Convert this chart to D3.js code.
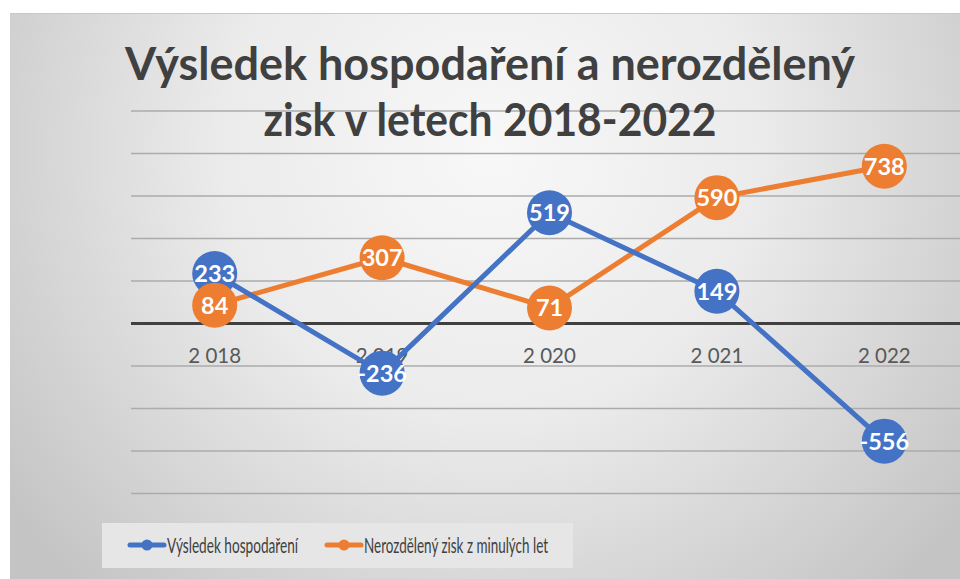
<!DOCTYPE html>
<html>
<head>
<meta charset="utf-8">
<script src="https://cdn.jsdelivr.net/npm/d3@7"></script>
<style>
  body { margin: 0; background: #fff; }
  svg { display: block; }
</style>
</head>
<body>
<div id="display"></div>
<script>
// data
var years = [2018, 2019, 2020, 2021, 2022];
var vysledek = [233, -236, 519, 149, -556];
var nerozdeleny = [84, 307, 71, 590, 738];
var gridTicks = [-800, -600, -400, -200, 0, 200, 400, 600, 800, 1000];
var seriesNames = ['Výsledek hospodaření', 'Nerozdělený zisk z minulých let'];
var titleLines = ['Výsledek hospodaření a nerozdělený', 'zisk v letech 2018-2022'];

var width = 960, height = 579;
var blue = '#4472c4', orange = '#ed7d31';

var cz = d3.formatLocale({decimal: ',', thousands: ' ', grouping: [3], currency: ['', ' Kč'], minus: '-'});
var fmtYear = cz.format(',');
var fmtVal = cz.format('d');

var svg = d3.select('#display').append('svg')
    .attr('width', width)
    .attr('height', height);

var defs = svg.append('defs');
var grad = defs.append('radialGradient')
    .attr('id', 'bg')
    .attr('gradientUnits', 'userSpaceOnUse')
    .attr('cx', 490).attr('cy', 150).attr('r', 600);
grad.append('stop').attr('offset', 0).attr('stop-color', '#f8f8f8');
grad.append('stop').attr('offset', 0.45).attr('stop-color', '#ebebeb');
grad.append('stop').attr('offset', 1).attr('stop-color', '#c4c4c4');

// chart frame
svg.append('rect')
    .attr('x', 10).attr('y', 13)
    .attr('width', width + 20).attr('height', height)
    .attr('fill', 'url(#bg)');
svg.append('line')
    .attr('x1', 10).attr('x2', width).attr('y1', 13.5).attr('y2', 13.5)
    .attr('stroke', '#c8c8c8').attr('stroke-width', 1);

var x = d3.scaleBand().domain(years).range([131, 968]);
var y = d3.scaleLinear().domain([-800, 1000]).range([493, 110.5]);

// gridlines
svg.append('g')
    .attr('transform', 'translate(131,0)')
    .call(d3.axisLeft(y).tickValues(gridTicks).tickSize(-(968 - 131)).tickFormat(''))
    .call(function(g) {
        g.select('.domain').remove();
        g.selectAll('.tick line')
            .attr('stroke', d => d === 0 ? '#404040' : '#ababab')
            .attr('stroke-width', d => d === 0 ? 3 : 1.5);
    });

// title
svg.append('g').selectAll('text')
    .data(titleLines)
    .join('text')
    .attr('x', 490)
    .attr('y', (d, i) => 80 + i * 56)
    .attr('text-anchor', 'middle')
    .attr('font-family', 'Lato, sans-serif')
    .attr('font-weight', 'bold')
    .attr('font-size', 45)
    .attr('fill', '#404040')
    .attr('textLength', (d, i) => i === 0 ? 730 : 453)
    .attr('lengthAdjust', 'spacingAndGlyphs')
    .text(d => d);

// x axis labels at the zero line
svg.append('g')
    .attr('transform', 'translate(0,' + y(0) + ')')
    .call(d3.axisBottom(x).tickSize(0).tickPadding(25).tickFormat(fmtYear))
    .call(function(g) {
        g.select('.domain').remove();
        g.selectAll('text')
            .attr('font-family', 'Lato, sans-serif')
            .attr('font-size', 20.5)
            .attr('fill', '#595959');
    });

var series = [
    {name: seriesNames[0], values: vysledek, color: blue},
    {name: seriesNames[1], values: nerozdeleny, color: orange}
];

var line = d3.line()
    .x((d, i) => x(years[i]) + x.bandwidth() / 2)
    .y(d => y(d));

series.slice().reverse().forEach(function(s) {
    svg.append('path')
        .attr('d', line(s.values))
        .attr('fill', 'none')
        .attr('stroke', s.color)
        .attr('stroke-width', 5)
        .attr('stroke-linejoin', 'round');
});

series.forEach(function(s) {
    var pts = svg.append('g').selectAll('g')
        .data(s.values)
        .join('g')
        .attr('transform', (d, i) => 'translate(' + (x(years[i]) + x.bandwidth() / 2) + ',' + y(d) + ')');
    pts.append('circle')
        .attr('r', 22.5)
        .attr('fill', s.color);
    pts.append('text')
        .attr('text-anchor', 'middle')
        .attr('dy', '0.36em')
        .attr('font-family', 'Lato, sans-serif')
        .attr('font-weight', 'bold')
        .attr('font-size', 23.5)
        .attr('fill', '#fff')
        .text(d => fmtVal(d));
});

// legend
var legend = svg.append('g');
legend.append('rect')
    .attr('x', 102).attr('y', 523)
    .attr('width', 471).attr('height', 45)
    .attr('fill', '#e6e6e6');

var legendItems = [
    {name: seriesNames[0], color: blue, x0: 130, len: 131},
    {name: seriesNames[1], color: orange, x0: 327, len: 184}
];
legendItems.forEach(function(it) {
    var g = legend.append('g');
    g.append('line')
        .attr('x1', it.x0).attr('x2', it.x0 + 34)
        .attr('y1', 545).attr('y2', 545)
        .attr('stroke', it.color)
        .attr('stroke-width', 5)
        .attr('stroke-linecap', 'round');
    g.append('circle')
        .attr('cx', it.x0 + 17).attr('cy', 545)
        .attr('r', 5.5)
        .attr('fill', it.color);
    g.append('text')
        .attr('x', it.x0 + 37)
        .attr('y', 553)
        .attr('font-family', 'Lato, sans-serif')
        .attr('font-size', 22)
        .attr('fill', '#404040')
        .attr('textLength', it.len)
        .attr('lengthAdjust', 'spacingAndGlyphs')
        .text(it.name);
});
</script>
</body>
</html>
